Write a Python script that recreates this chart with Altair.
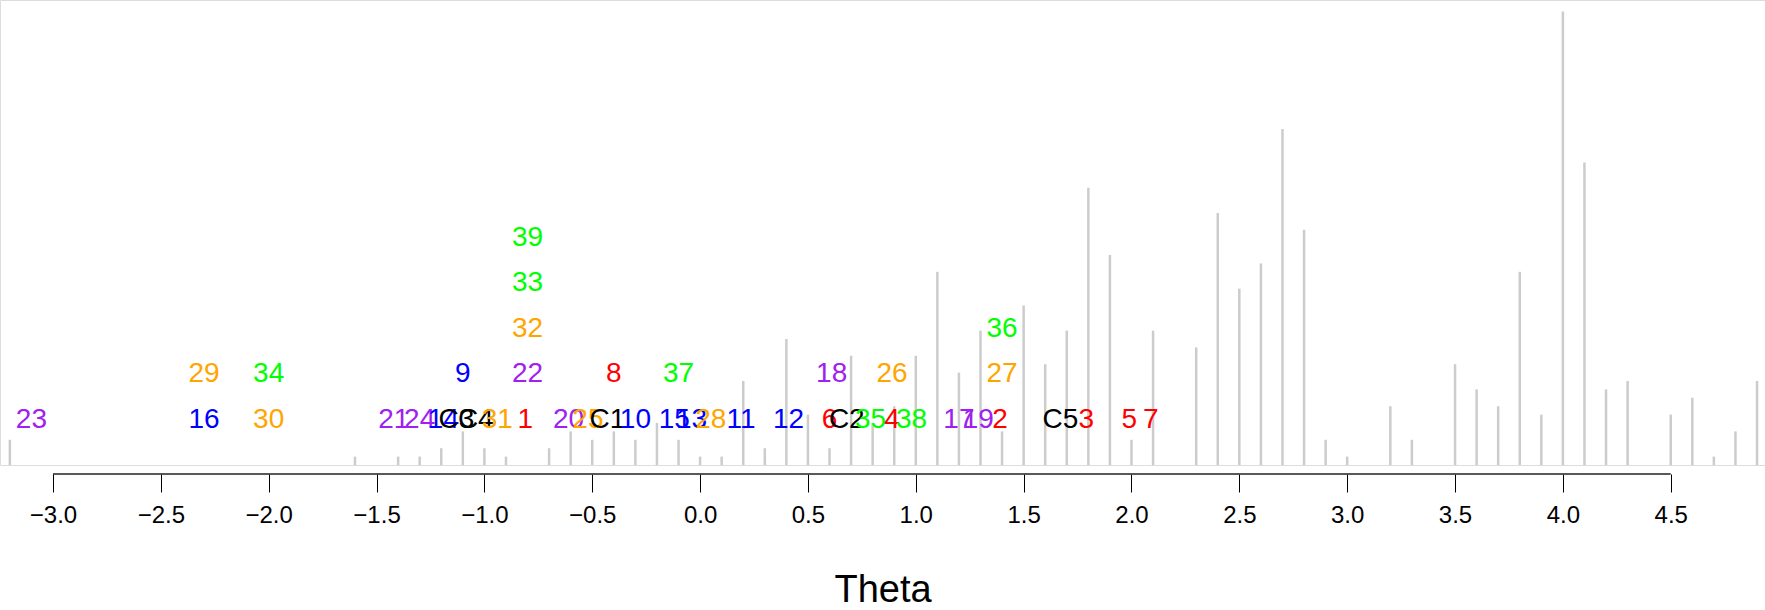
import altair as alt
import pandas as pd

# Person distribution (theta bin, count)
person_theta = [-3.2, -1.6, -1.4, -1.3, -1.2, -1.1, -1.0, -0.9, -0.7, -0.6,
                -0.5, -0.4, -0.3, -0.2, -0.1, 0.0, 0.1, 0.2, 0.3, 0.4,
                0.5, 0.6, 0.7, 0.8, 0.9, 1.0, 1.1, 1.2, 1.3, 1.4,
                1.5, 1.6, 1.7, 1.8, 1.9, 2.0, 2.1, 2.3, 2.4, 2.5,
                2.6, 2.7, 2.8, 2.9, 3.0, 3.2, 3.3, 3.5, 3.6, 3.7,
                3.8, 3.9, 4.0, 4.1, 4.2, 4.3, 4.5, 4.6, 4.7, 4.8, 4.9]
person_count = [3, 1, 1, 1, 2, 4, 2, 1, 2, 4,
                3, 4, 3, 5, 3, 1, 1, 10, 2, 15,
                6, 2, 13, 5, 7, 13, 23, 11, 16, 4,
                19, 12, 16, 33, 25, 3, 16, 14, 30, 21,
                24, 40, 28, 3, 1, 7, 3, 12, 9, 7,
                23, 6, 54, 36, 9, 10, 6, 8, 1, 4, 10]

# Item / threshold labels
item_label = ["23", "16", "30", "21", "24", "14", "C3", "C4", "31", "1",
              "20", "25", "C1", "10", "15", "13", "28", "11", "12", "6",
              "C2", "35", "4", "38", "17", "19", "2", "C5", "3", "5", "7",
              "29", "34", "9", "22", "8", "37", "18", "26", "27",
              "32", "36", "33", "39"]
item_theta = [-3.10, -2.30, -2.00, -1.42, -1.30, -1.19, -1.13, -1.04, -0.94, -0.81,
              -0.61, -0.52, -0.43, -0.30, -0.12, -0.04, 0.05, 0.19, 0.41, 0.60,
              0.68, 0.79, 0.89, 0.98, 1.20, 1.29, 1.39, 1.67, 1.79, 1.99, 2.09,
              -2.30, -2.00, -1.10, -0.80, -0.40, -0.10, 0.61, 0.89, 1.40,
              -0.80, 1.40, -0.80, -0.80]
item_level = [1] * 31 + [2] * 9 + [3, 3, 4, 5]
item_group = ["D3", "D2", "D4", "D3", "D3", "D2", "C", "C", "D4", "D1",
              "D3", "D4", "C", "D2", "D2", "D2", "D4", "D2", "D2", "D1",
              "C", "D5", "D1", "D5", "D3", "D3", "D1", "C", "D1", "D1", "D1",
              "D4", "D5", "D2", "D3", "D1", "D5", "D3", "D4", "D4",
              "D4", "D5", "D5", "D5"]

group_names = ["D1", "D2", "D3", "D4", "D5", "C"]
group_colors = ["#FF0000", "#0000FF", "#A020F0", "#FFA500", "#00FF00", "#000000"]

axis_ticks = [-3.0, -2.5, -2.0, -1.5, -1.0, -0.5, 0.0, 0.5, 1.0, 1.5,
              2.0, 2.5, 3.0, 3.5, 4.0, 4.5]

persons = pd.DataFrame({"theta": person_theta, "count": person_count})
items = pd.DataFrame({"label": item_label, "theta": item_theta,
                      "level": item_level, "group": item_group})

PLOT_H = 465
xscale = alt.Scale(domain=[-3.2457, 4.937], nice=False, zero=False)

bars = alt.Chart(persons).mark_rule(color="#CCCCCC", strokeWidth=2.5).encode(
    x=alt.X("theta:Q", scale=xscale,
            axis=alt.Axis(values=axis_ticks, format=".1f", domain=False,
                          grid=False, offset=9, tickSize=18, tickColor="#000000",
                          tickWidth=1, labelFontSize=24, labelColor="#000000",
                          labelFont="Liberation Sans", labelPadding=11,
                          labelFlush=False, title="Theta", titleFontSize=38,
                          titleFont="Liberation Sans", titleFontWeight="normal",
                          titleColor="#000000", titlePadding=44)),
    y=alt.Y("count:Q", scale=alt.Scale(domain=[0, 55.36], nice=False), axis=None),
    y2=alt.datum(0),
)

axis_line = alt.Chart(pd.DataFrame({"a": [min(axis_ticks)], "b": [max(axis_ticks)]})).mark_rule(
    color="#222222", strokeWidth=1.5
).encode(
    x=alt.X("a:Q", scale=xscale),
    x2="b:Q",
    y=alt.value(PLOT_H + 9),
)

labels = alt.Chart(items).mark_text(
    font="Liberation Sans", fontSize=28, baseline="middle", align="center"
).encode(
    x=alt.X("theta:Q", scale=xscale),
    y=alt.Y("level:Q", scale=alt.Scale(domain=[0, PLOT_H / 45.5], nice=False), axis=None),
    text="label:N",
    color=alt.Color("group:N", scale=alt.Scale(domain=group_names, range=group_colors),
                    legend=None),
)

chart = alt.layer(bars, axis_line, labels).resolve_scale(y="independent").properties(
    width=1765, height=PLOT_H, padding=0
).configure_view(stroke=None).configure(background="white")

chart.save("out.html", embed_options={"renderer": "svg", "actions": False})
